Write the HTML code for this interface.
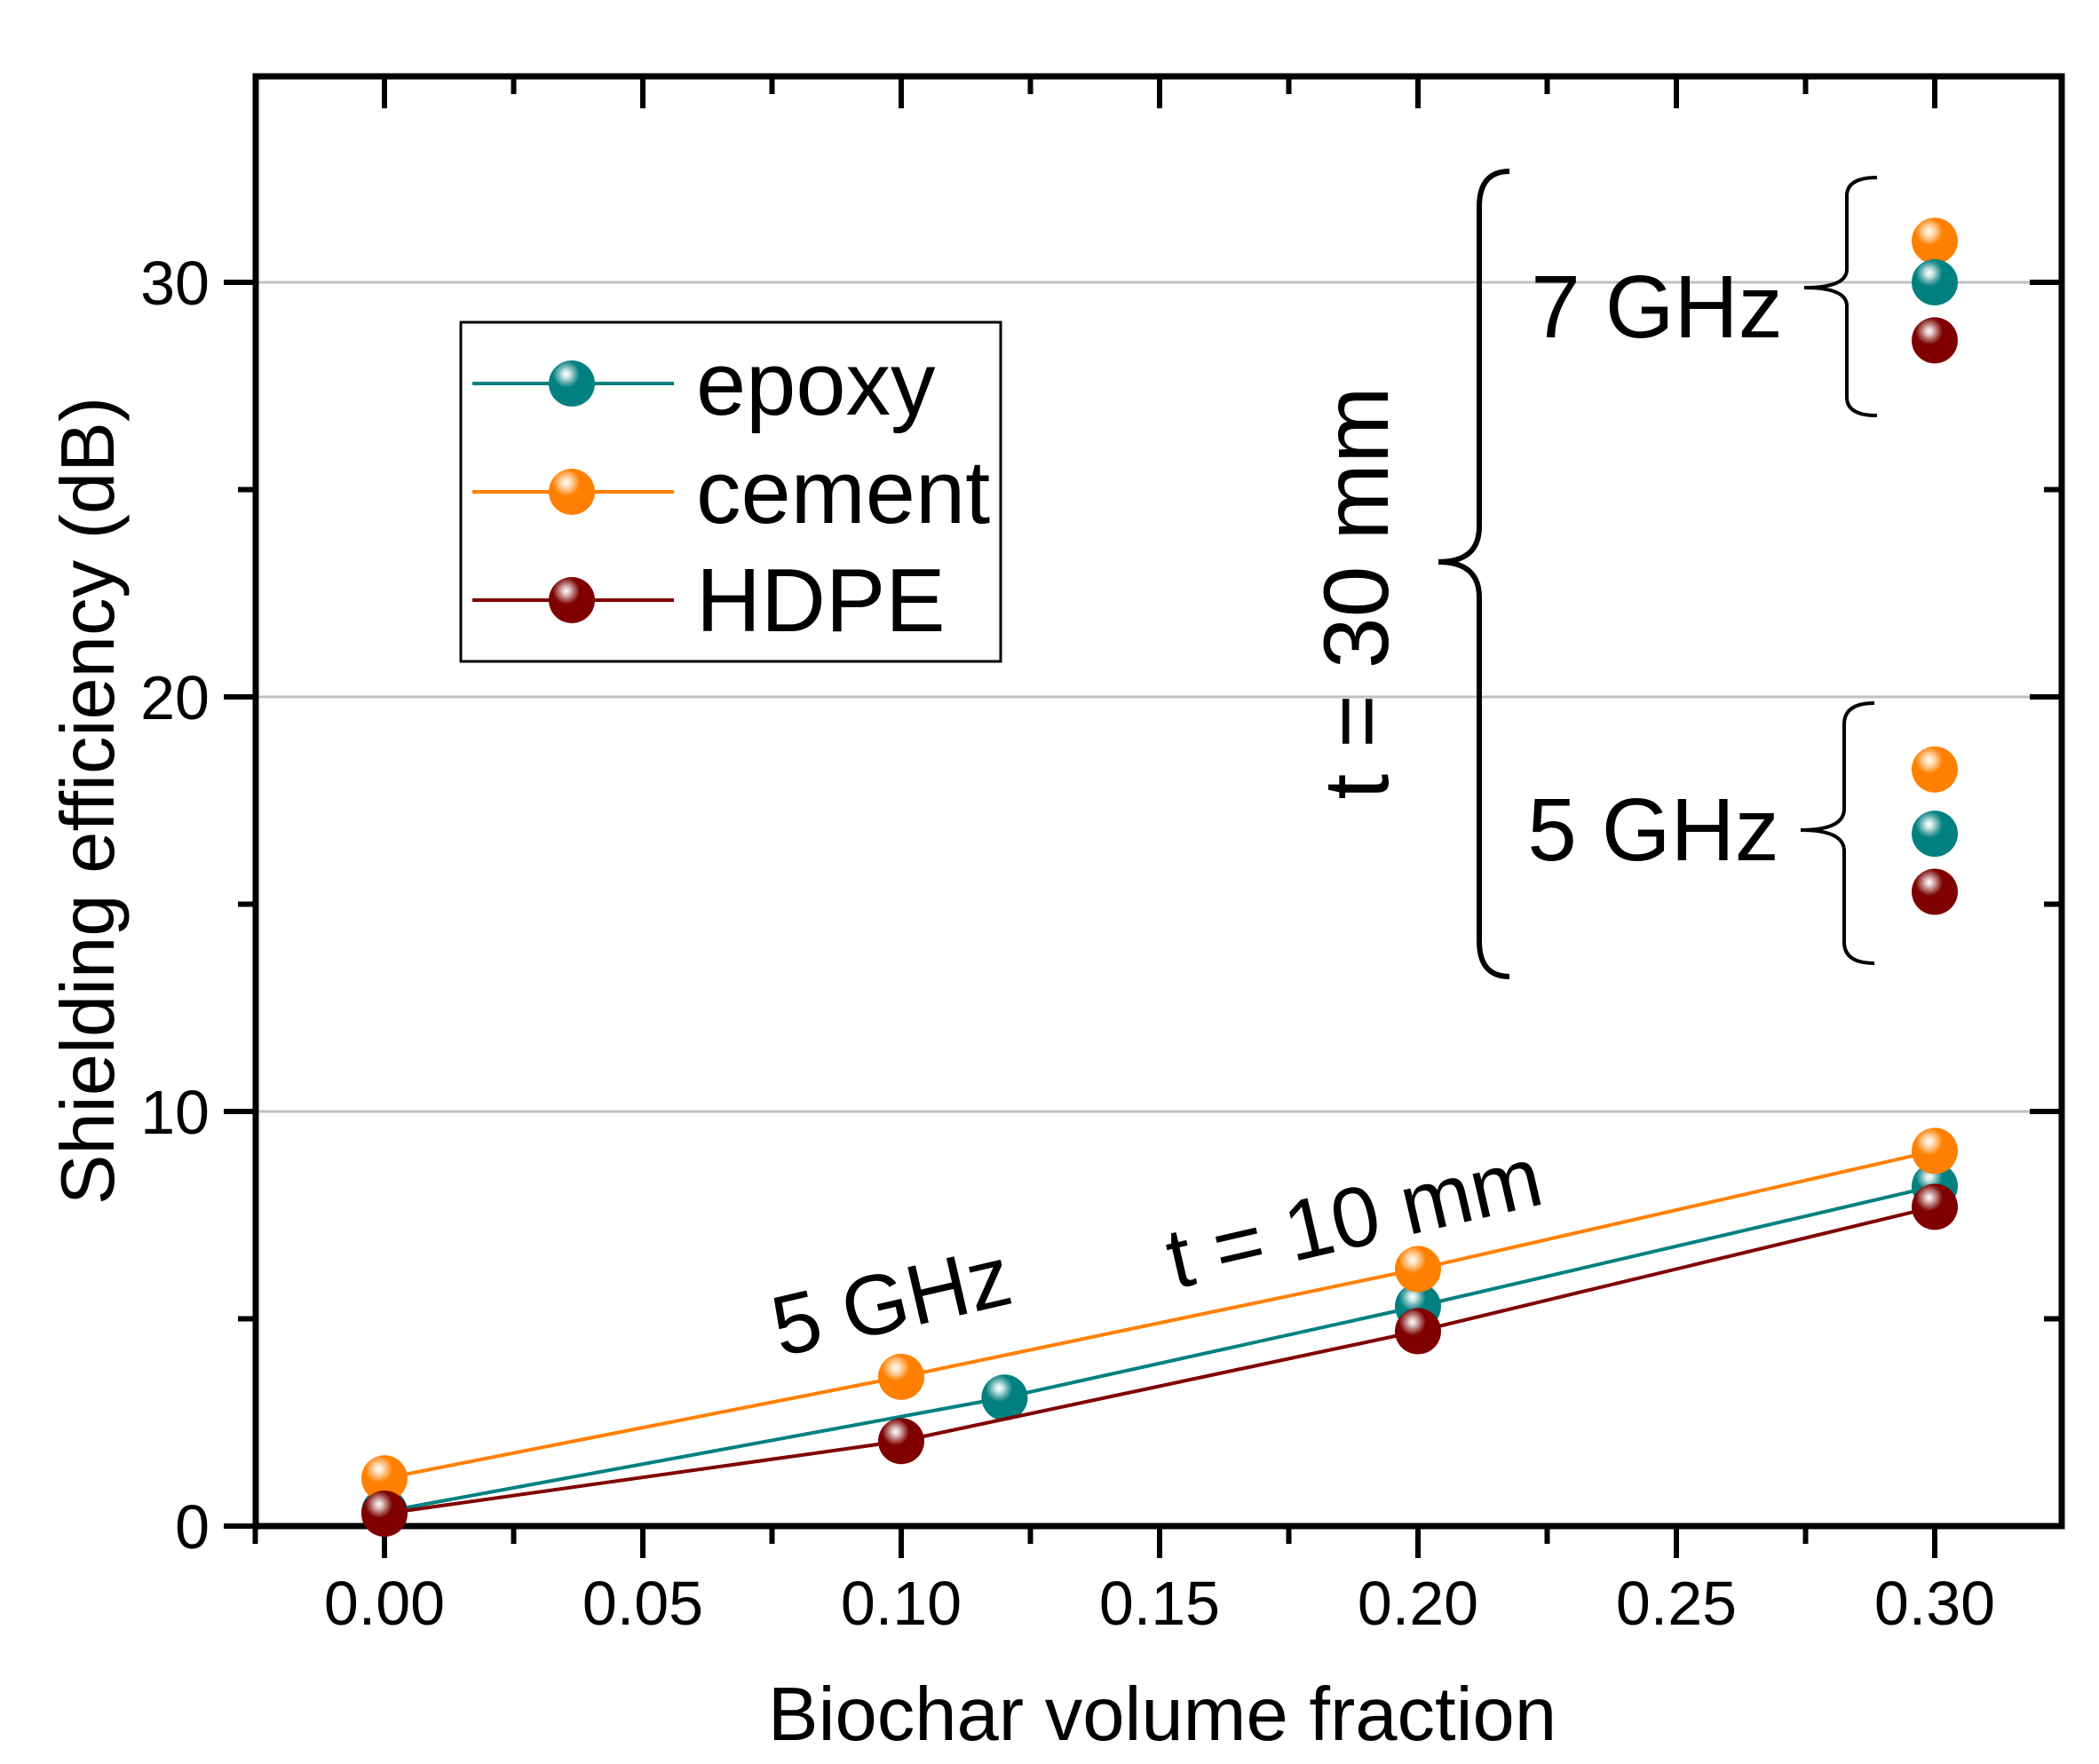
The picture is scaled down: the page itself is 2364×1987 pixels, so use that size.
<!DOCTYPE html>
<html><head><meta charset="utf-8"><style>
html,body{margin:0;padding:0;background:#fff}
svg{display:block}
text{font-family:"Liberation Sans",Arial,sans-serif;fill:#000}
</style></head><body>
<svg id="chart" xmlns="http://www.w3.org/2000/svg" width="2364" height="1987" viewBox="0 0 2364 1987">
<defs>
<radialGradient id="g-epoxy" cx="0.38" cy="0.3" r="0.7"><stop offset="0" stop-color="#fff"/><stop offset="0.12" stop-color="#c8e6e6"/><stop offset="0.28" stop-color="#5aa9a9"/><stop offset="0.42" stop-color="#008080"/><stop offset="1" stop-color="#008080"/></radialGradient>
<radialGradient id="g-cement" cx="0.38" cy="0.3" r="0.7"><stop offset="0" stop-color="#fff"/><stop offset="0.12" stop-color="#ffe2c0"/><stop offset="0.28" stop-color="#ffb060"/><stop offset="0.42" stop-color="#ff8000"/><stop offset="1" stop-color="#ff8000"/></radialGradient>
<radialGradient id="g-hdpe" cx="0.38" cy="0.3" r="0.7"><stop offset="0" stop-color="#fff"/><stop offset="0.12" stop-color="#e0c0c0"/><stop offset="0.28" stop-color="#a85858"/><stop offset="0.42" stop-color="#800000"/><stop offset="1" stop-color="#800000"/></radialGradient>
</defs>
<g id="grid"></g><g id="axes"></g><g id="series"></g><g id="annot"></g>
</svg>
<script>
const xTicks=[0.00,0.05,0.10,0.15,0.20,0.25,0.30];
const xTickLabels=["0.00","0.05","0.10","0.15","0.20","0.25","0.30"];
const yTicks=[0,10,20,30];
const yTickLabels=["0","10","20","30"];
const epoxyX=[0,0.12,0.2,0.3];
const epoxyY=[0.35,3.1,5.3,8.2];
const cementX=[0,0.1,0.2,0.3];
const cementY=[1.15,3.6,6.2,9.05];
const hdpeX=[0,0.1,0.2,0.3];
const hdpeY=[0.3,2.05,4.7,7.7];
const t30X=0.3;
const t30_7GHz=[31.0,30.0,28.6];   // cement, epoxy, hdpe
const t30_5GHz=[18.25,16.7,15.3];
const seriesNames=["cement","epoxy","hdpe"];
const colors={epoxy:"#008080",cement:"#ff8000",hdpe:"#800000"};

const X0=433, XS=5820, Y0=1719, YS=46.7;
const L=288,R=2322,T=86,B=1719;
const sx=v=>X0+v*XS, sy=v=>Y0-v*YS;
const NS="http://www.w3.org/2000/svg";
function mk(tag,attrs,parent){const e=document.createElementNS(NS,tag);for(const k in attrs)e.setAttribute(k,attrs[k]);parent.appendChild(e);return e;}
const grid=document.getElementById('grid'),axes=document.getElementById('axes'),ser=document.getElementById('series'),ann=document.getElementById('annot');

yTicks.forEach(v=>{if(v===0)return;const g=mk('line',{x1:L,x2:R,y1:sy(v),y2:sy(v),stroke:'#c0c0c0','stroke-width':3},grid);

});

const frame=mk('rect',{x:L,y:T,width:R-L,height:B-T,fill:'none',stroke:'#000','stroke-width':7},axes);


for(let i=-1;i<=13;i++){const v=i*0.025;const x=sx(v);if(x<L-2||x>R+2)continue;const major=(i%2===0);
 mk('line',{x1:x,x2:x,y1:B,y2:B+(major?36:20),stroke:'#000','stroke-width':6},axes);
 mk('line',{x1:x,x2:x,y1:T,y2:T+(major?36:20),stroke:'#000','stroke-width':6},axes);}
xTicks.forEach((v,i)=>{const t=mk('text',{x:sx(v),y:1830,'font-size':70,'text-anchor':'middle'},axes);t.textContent=xTickLabels[i];

});
for(let v=0;v<=35;v+=5){const y=sy(v);if(y<T)continue;const major=v%10===0;
 mk('line',{x1:L,x2:L-(major?36:20),y1:y,y2:y,stroke:'#000','stroke-width':6},axes);
 mk('line',{x1:R,x2:R-(major?36:20),y1:y,y2:y,stroke:'#000','stroke-width':6},axes);}
yTicks.forEach((v,i)=>{const t=mk('text',{x:236,y:sy(v)+25,'font-size':70,'text-anchor':'end'},axes);t.textContent=yTickLabels[i];

});
const xt=mk('text',{x:1309,y:1960,'font-size':85,'text-anchor':'middle'},axes);xt.textContent='Biochar volume fraction';


const yt=mk('text',{x:0,y:0,'font-size':85,'text-anchor':'middle',transform:'translate(128,902) rotate(-90)'},axes);yt.textContent='Shielding efficiency (dB)';



function marker(x,y,name,parent){const c=mk('circle',{cx:x,cy:y,r:26,fill:'url(#g-'+name+')'},parent);

}
function series(name,xs,ys){const g=mk('g',{},ser);
 
 
 const pts=xs.map((v,i)=>sx(v)+','+sy(ys[i])).join(' ');
 mk('polyline',{points:pts,fill:'none',stroke:colors[name],'stroke-width':4},g);
 xs.forEach((v,i)=>marker(sx(v),sy(ys[i]),name,g));}
series('epoxy',epoxyX,epoxyY);series('cement',cementX,cementY);series('hdpe',hdpeX,hdpeY);
[t30_7GHz,t30_5GHz].forEach(arr=>arr.forEach((v,i)=>marker(sx(t30X),sy(v),seriesNames[i],ser)));

const lg=mk('g',{},ann);


mk('rect',{x:519,y:363,width:608,height:382,fill:'#fff',stroke:'#000','stroke-width':3},lg);
[['epoxy',432,'epoxy'],['cement',554,'cement'],['hdpe',676,'HDPE']].forEach(([n,y,lab])=>{
 const e=mk('g',{},lg);
 
 
 mk('line',{x1:532,x2:759,y1:y,y2:y,stroke:colors[n],'stroke-width':4},e);
 marker(644,y,n,e);
 const t=mk('text',{x:784,y:y+35,'font-size':101},e);t.textContent=lab;});

function brace(xr,xm,xl,y1,ym,y2,w,name){const r=Math.min(40,(ym-y1)/6);
 const d=`M${xr},${y1} Q${xm},${y1} ${xm},${y1+r} L${xm},${ym-r} Q${xm},${ym} ${xl},${ym} Q${xm},${ym} ${xm},${ym+r} L${xm},${y2-r} Q${xm},${y2} ${xr},${y2}`;
 const p=mk('path',{d:d,fill:'none',stroke:'#000','stroke-width':w},ann);
 
 }
brace(1700,1666,1620,193,633,1100,6,'brace-t30');
brace(2114,2080,2032,200,324,468,4,'brace-7ghz');
brace(2111,2077,2028,792,935,1085,4,'brace-5ghz');

function label(txt,x,y,size,rot,name){const t=mk('text',{x:0,y:0,'font-size':size,'text-anchor':'middle','dominant-baseline':'central',transform:`translate(${x},${y}) rotate(${rot})`},ann);t.textContent=txt;
 
 }
label('5 GHz',1004,1466,96,-13,'label-5ghz-t10');
label('t = 10 mm',1525,1372,96,-13,'label-t10');
label('t = 30 mm',1528,668,104,-90,'label-t30');
label('7 GHz',1866,346,100,0,'label-7ghz');
label('5 GHz',1862,935,100,0,'label-5ghz');
</script>
</body></html>
